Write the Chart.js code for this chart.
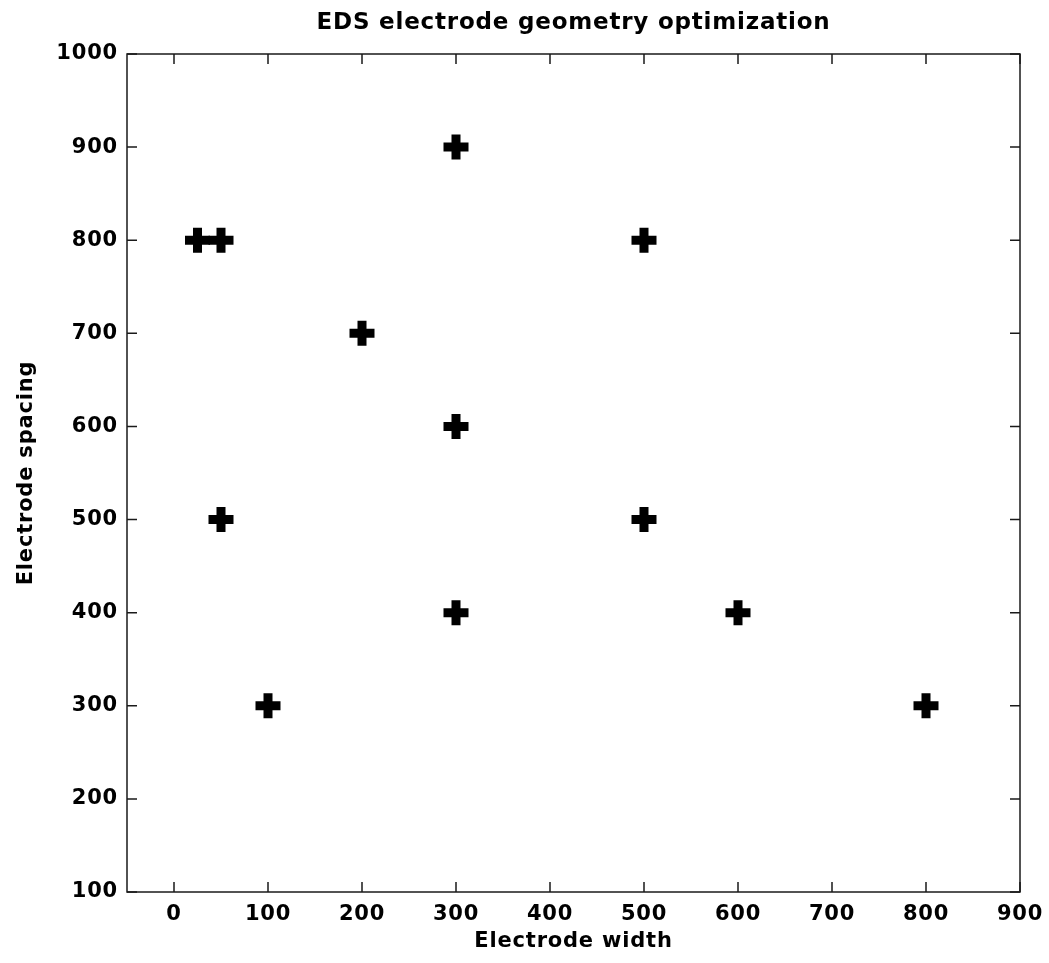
<!DOCTYPE html>
<html>
<head>
<meta charset="utf-8">
<script src="https://cdn.jsdelivr.net/npm/chart.js@4"></script>
<style>
  html, body { margin: 0; padding: 0; background: #fff; }
  #wrap { width: 1049px; height: 963px; }
</style>
</head>
<body>
<div id="wrap"><canvas id="c" width="1049" height="963"></canvas></div>
<script>
// Electrode geometries that were simulated (width, spacing).
const widthValues   = [25, 50, 300, 500, 200, 300, 50, 500, 300, 600, 100, 800];
const spacingValues = [800, 800, 900, 800, 700, 600, 500, 500, 400, 400, 300, 300];

const xTickValues = [0, 100, 200, 300, 400, 500, 600, 700, 800, 900];
const yTickValues = [100, 200, 300, 400, 500, 600, 700, 800, 900, 1000];

const FAMILY = '"DejaVu Sans", Verdana, sans-serif';
const FONT = { family: FAMILY, size: 21, weight: 'bold' };
const TITLE_FONT = { family: FAMILY, size: 23, weight: 'bold' };
const TRACK = '0.8px'; // slightly loose tracking, like a screen bitmap font

const points = widthValues.map((w, i) => ({ x: w, y: spacingValues[i] }));

// Letter spacing lives on the context state, which a canvas resize wipes,
// so it is re-applied before every layout and draw pass.
const letterSpacing = {
  id: 'letterSpacing',
  beforeLayout(chart) { chart.ctx.letterSpacing = TRACK; },
  beforeDraw(chart) { chart.ctx.letterSpacing = TRACK; },
};

// Box frame with inward ticks on all four sides.
const frame = {
  id: 'frame',
  afterDraw(chart) {
    const { ctx, chartArea: a, scales: { x, y } } = chart;
    const len = 10;
    ctx.save();
    ctx.strokeStyle = '#1a1a1a';
    ctx.lineWidth = 1.5;
    ctx.beginPath();
    for (const v of xTickValues) {
      const px = x.getPixelForValue(v);
      ctx.moveTo(px, a.bottom); ctx.lineTo(px, a.bottom - len);
      ctx.moveTo(px, a.top); ctx.lineTo(px, a.top + len);
    }
    for (const v of yTickValues) {
      const py = y.getPixelForValue(v);
      ctx.moveTo(a.left, py); ctx.lineTo(a.left + len, py);
      ctx.moveTo(a.right, py); ctx.lineTo(a.right - len, py);
    }
    ctx.stroke();
    ctx.strokeRect(a.left, a.top, a.right - a.left, a.bottom - a.top);
    ctx.restore();
  },
};

const plain = (v) => String(v);

new Chart(document.getElementById('c'), {
  type: 'scatter',
  data: {
    datasets: [{
      data: points,
      pointStyle: 'cross',
      pointRadius: 12.5,
      pointHoverRadius: 12.5,
      pointBorderWidth: 9,
      pointHoverBorderWidth: 9,
      borderColor: '#000',
      backgroundColor: '#000',
    }],
  },
  options: {
    responsive: false,
    animation: false,
    events: [],
    layout: { padding: { left: 0, right: 29, top: 0, bottom: 0 } },
    plugins: {
      legend: { display: false },
      tooltip: { enabled: false },
      title: {
        display: true,
        text: 'EDS electrode geometry optimization',
        fullSize: false,
        color: '#000',
        font: TITLE_FONT,
        padding: { top: 9.4, bottom: 17 },
      },
    },
    scales: {
      x: {
        type: 'linear',
        min: -50,
        max: 900,
        afterBuildTicks: (s) => { s.ticks = xTickValues.map((v) => ({ value: v })); },
        afterFit: (s) => { s.height = 71; s.paddingLeft = 0; s.paddingRight = 0; },
        grid: { display: false, drawTicks: false },
        border: { display: false },
        ticks: { color: '#000', font: FONT, padding: 10, maxRotation: 0, autoSkip: false, callback: plain },
        title: { display: true, text: 'Electrode width', color: '#000', font: FONT, padding: { top: 0, bottom: 9 } },
      },
      y: {
        type: 'linear',
        min: 100,
        max: 1000,
        afterBuildTicks: (s) => { s.ticks = yTickValues.map((v) => ({ value: v })); },
        afterFit: (s) => { s.width = 127; s.paddingTop = 0; s.paddingBottom = 0; },
        grid: { display: false, drawTicks: false },
        border: { display: false },
        ticks: { color: '#000', font: FONT, padding: 9, autoSkip: false, callback: plain },
        title: { display: true, text: 'Electrode spacing', color: '#000', font: FONT, padding: { top: 14, bottom: 0 } },
      },
    },
  },
  plugins: [letterSpacing, frame],
});
</script>
</body>
</html>
